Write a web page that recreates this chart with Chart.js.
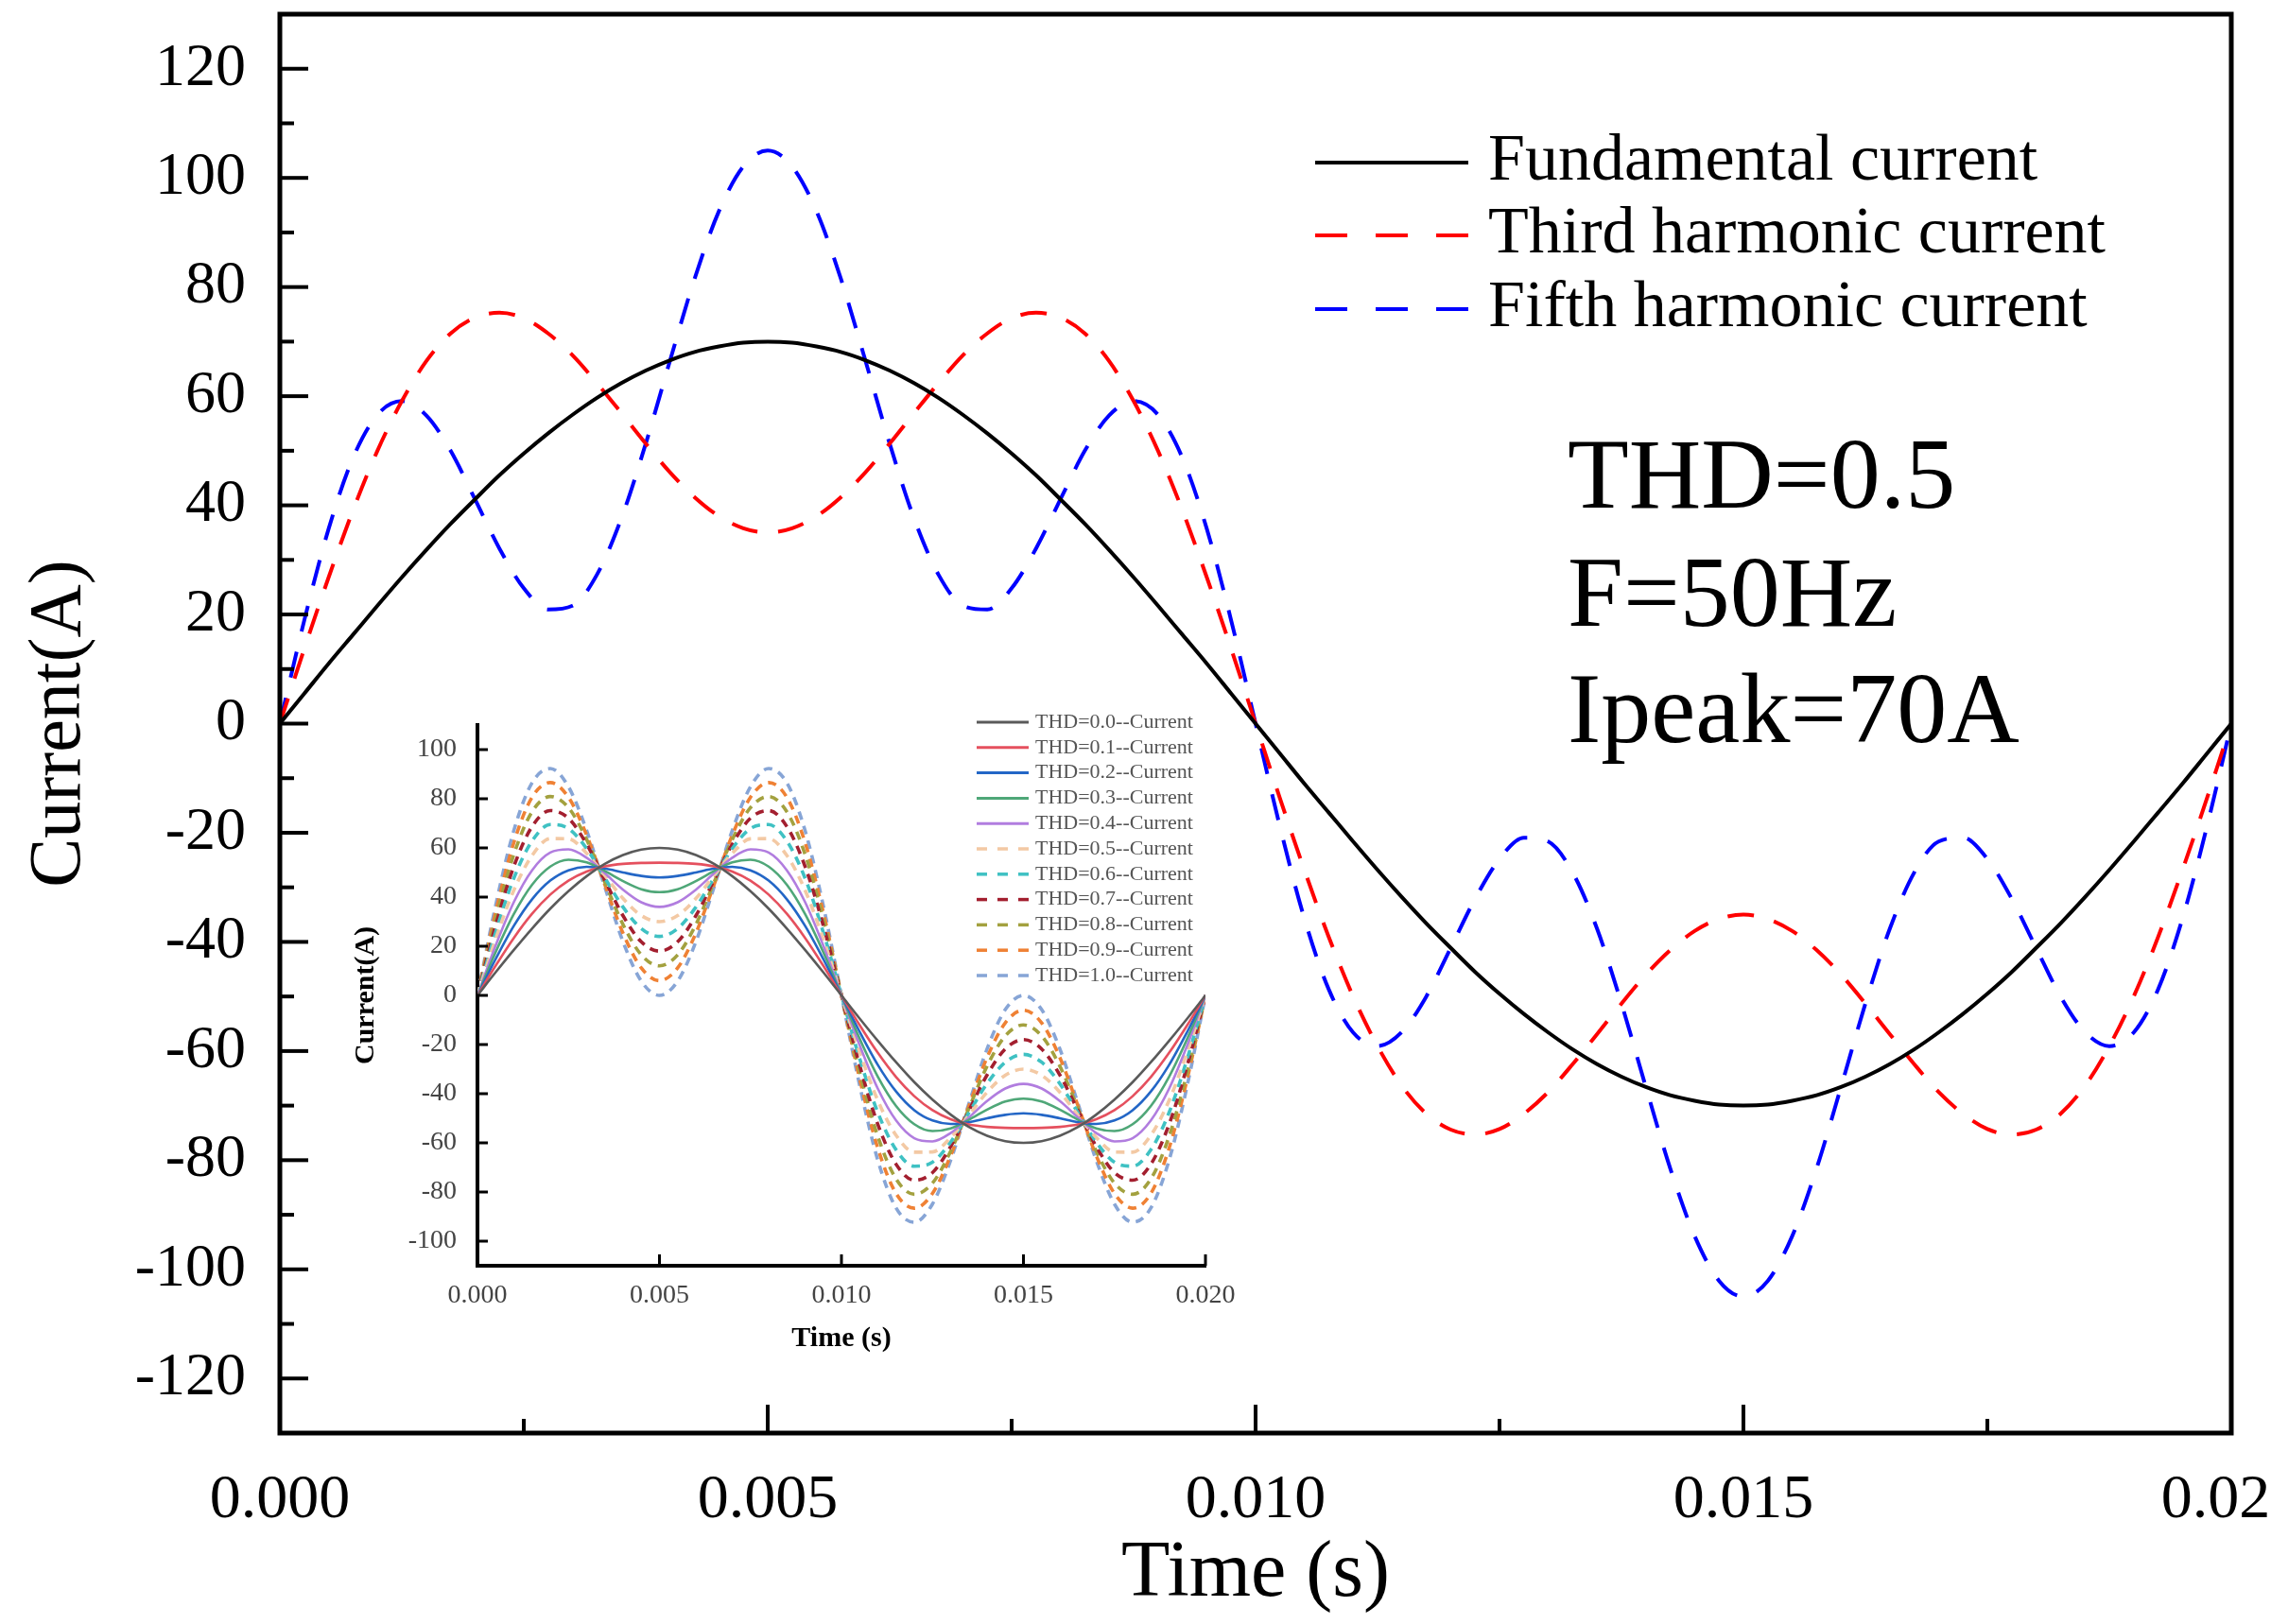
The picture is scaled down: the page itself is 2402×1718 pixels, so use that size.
<!DOCTYPE html>
<html>
<head>
<meta charset="utf-8">
<script src="https://cdn.jsdelivr.net/npm/chart.js@4.4.1/dist/chart.umd.min.js"></script>
<style>
  html, body { margin: 0; padding: 0; background: #fff; overflow: hidden; }
  #wrap { position: relative; width: 2402px; height: 1718px; background: #fff; }
  #mainChart { position: absolute; left: 0; top: 0; }
  #insetChart { position: absolute; left: 330px; top: 740px; }
</style>
</head>
<body>
<div id="wrap">
  <canvas id="mainChart" width="2402" height="1718"></canvas>
  <canvas id="insetChart" width="1010" height="700"></canvas>
</div>
<script>
const SERIF = "'Liberation Serif', 'Times New Roman', serif";

// ---- main chart data (time in s, current in A) ----
const timeMain = [0, 0.00025, 0.0005, 0.00075, 0.001, 0.00125, 0.0015, 0.00175, 0.002, 0.00225,
  0.0025, 0.00275, 0.003, 0.00325, 0.0035, 0.00375, 0.004, 0.00425, 0.0045, 0.00475,
  0.005, 0.00525, 0.0055, 0.00575, 0.006, 0.00625, 0.0065, 0.00675, 0.007, 0.00725,
  0.0075, 0.00775, 0.008, 0.00825, 0.0085, 0.00875, 0.009, 0.00925, 0.0095, 0.00975,
  0.01, 0.01025, 0.0105, 0.01075, 0.011, 0.01125, 0.0115, 0.01175, 0.012, 0.01225,
  0.0125, 0.01275, 0.013, 0.01325, 0.0135, 0.01375, 0.014, 0.01425, 0.0145, 0.01475,
  0.015, 0.01525, 0.0155, 0.01575, 0.016, 0.01625, 0.0165, 0.01675, 0.017, 0.01725,
  0.0175, 0.01775, 0.018, 0.01825, 0.0185, 0.01875, 0.019, 0.01925, 0.0195, 0.01975, 0.02];

const fundamental = [0, 5.5, 11.0, 16.3, 21.6, 26.8, 31.8, 36.6, 41.1, 45.5,
  49.5, 53.2, 56.6, 59.7, 62.4, 64.7, 66.6, 68.1, 69.1, 69.8,
  70, 69.8, 69.1, 68.1, 66.6, 64.7, 62.4, 59.7, 56.6, 53.2,
  49.5, 45.5, 41.1, 36.6, 31.8, 26.8, 21.6, 16.3, 11.0, 5.5,
  0, -5.5, -11.0, -16.3, -21.6, -26.8, -31.8, -36.6, -41.1, -45.5,
  -49.5, -53.2, -56.6, -59.7, -62.4, -64.7, -66.6, -68.1, -69.1, -69.8,
  -70, -69.8, -69.1, -68.1, -66.6, -64.7, -62.4, -59.7, -56.6, -53.2,
  -49.5, -45.5, -41.1, -36.6, -31.8, -26.8, -21.6, -16.3, -11.0, -5.5, 0];

const thirdHarmonic = [0, 13.7, 26.8, 39.1, 50.0, 59.1, 66.4, 71.5, 74.4, 75.3,
  74.3, 71.5, 67.5, 62.4, 56.9, 51.3, 46.0, 41.5, 38.0, 35.8,
  35, 35.8, 38.0, 41.5, 46.0, 51.3, 56.9, 62.4, 67.5, 71.5,
  74.3, 75.3, 74.4, 71.5, 66.4, 59.1, 50.0, 39.1, 26.8, 13.7,
  0, -13.7, -26.8, -39.1, -50.0, -59.1, -66.4, -71.5, -74.4, -75.3,
  -74.3, -71.5, -67.5, -62.4, -56.9, -51.3, -46.0, -41.5, -38.0, -35.8,
  -35, -35.8, -38.0, -41.5, -46.0, -51.3, -56.9, -62.4, -67.5, -71.5,
  -74.3, -75.3, -74.4, -71.5, -66.4, -59.1, -50.0, -39.1, -26.8, -13.7, 0];

const fifthHarmonic = [0, 18.9, 35.7, 48.7, 56.6, 59.1, 56.5, 50.0, 41.1, 32.1,
  24.8, 20.9, 21.6, 27.3, 37.6, 51.3, 66.6, 81.5, 93.9, 102.1,
  105, 102.1, 93.9, 81.5, 66.6, 51.3, 37.6, 27.3, 21.6, 20.9,
  24.8, 32.1, 41.1, 50.0, 56.5, 59.1, 56.6, 48.7, 35.7, 18.9,
  0, -18.9, -35.7, -48.7, -56.6, -59.1, -56.5, -50.0, -41.1, -32.1,
  -24.8, -20.9, -21.6, -27.3, -37.6, -51.3, -66.6, -81.5, -93.9, -102.1,
  -105, -102.1, -93.9, -81.5, -66.6, -51.3, -37.6, -27.3, -21.6, -20.9,
  -24.8, -32.1, -41.1, -50.0, -56.5, -59.1, -56.6, -48.7, -35.7, -18.9, 0];

const mainLabels = ['Fundamental current', 'Third harmonic current', 'Fifth harmonic current'];
const noteLines = ['THD=0.5', 'F=50Hz', 'Ipeak=70A'];

// ---- inset data ----
const timeInset = [0, 0.0005, 0.001, 0.0015, 0.002, 0.0025, 0.003, 0.0035, 0.004, 0.0045,
  0.005, 0.0055, 0.006, 0.0065, 0.007, 0.0075, 0.008, 0.0085, 0.009, 0.0095,
  0.01, 0.0105, 0.011, 0.0115, 0.012, 0.0125, 0.013, 0.0135, 0.014, 0.0145,
  0.015, 0.0155, 0.016, 0.0165, 0.017, 0.0175, 0.018, 0.0185, 0.019, 0.0195, 0.02];

const thd00 = [0, 9.4, 18.5, 27.2, 35.3, 42.4, 48.5, 53.5, 57.1, 59.3, 60, 59.3, 57.1, 53.5, 48.5, 42.4, 35.3, 27.2, 18.5, 9.4,
  0, -9.4, -18.5, -27.2, -35.3, -42.4, -48.5, -53.5, -57.1, -59.3, -60, -59.3, -57.1, -53.5, -48.5, -42.4, -35.3, -27.2, -18.5, -9.4, 0];
const thd01 = [0, 12.1, 23.4, 33.2, 41.0, 46.7, 50.4, 52.5, 53.5, 53.9, 54, 53.9, 53.5, 52.5, 50.4, 46.7, 41.0, 33.2, 23.4, 12.1,
  0, -12.1, -23.4, -33.2, -41.0, -46.7, -50.4, -52.5, -53.5, -53.9, -54, -53.9, -53.5, -52.5, -50.4, -46.7, -41.0, -33.2, -23.4, -12.1, 0];
const thd02 = [0, 14.8, 28.3, 39.1, 46.7, 50.9, 52.3, 51.6, 50.0, 48.6, 48, 48.6, 50.0, 51.6, 52.3, 50.9, 46.7, 39.1, 28.3, 14.8,
  0, -14.8, -28.3, -39.1, -46.7, -50.9, -52.3, -51.6, -50.0, -48.6, -48, -48.6, -50.0, -51.6, -52.3, -50.9, -46.7, -39.1, -28.3, -14.8, 0];
const thd03 = [0, 17.6, 33.1, 45.0, 52.4, 55.2, 54.1, 50.6, 46.5, 43.2, 42, 43.2, 46.5, 50.6, 54.1, 55.2, 52.4, 45.0, 33.1, 17.6,
  0, -17.6, -33.1, -45.0, -52.4, -55.2, -54.1, -50.6, -46.5, -43.2, -42, -43.2, -46.5, -50.6, -54.1, -55.2, -52.4, -45.0, -33.1, -17.6, 0];
const thd04 = [0, 20.3, 38.0, 50.9, 58.1, 59.4, 56.0, 49.7, 43.0, 37.9, 36, 37.9, 43.0, 49.7, 56.0, 59.4, 58.1, 50.9, 38.0, 20.3,
  0, -20.3, -38.0, -50.9, -58.1, -59.4, -56.0, -49.7, -43.0, -37.9, -36, -37.9, -43.0, -49.7, -56.0, -59.4, -58.1, -50.9, -38.0, -20.3, 0];
const thd05 = [0, 23.0, 42.8, 56.9, 63.8, 63.7, 57.8, 48.8, 39.4, 32.5, 30, 32.5, 39.4, 48.8, 57.8, 63.7, 63.8, 56.9, 42.8, 23.0,
  0, -23.0, -42.8, -56.9, -63.8, -63.7, -57.8, -48.8, -39.4, -32.5, -30, -32.5, -39.4, -48.8, -57.8, -63.7, -63.8, -56.9, -42.8, -23.0, 0];
const thd06 = [0, 25.7, 47.7, 62.8, 69.5, 67.9, 59.7, 47.8, 35.9, 27.2, 24, 27.2, 35.9, 47.8, 59.7, 67.9, 69.5, 62.8, 47.7, 25.7,
  0, -25.7, -47.7, -62.8, -69.5, -67.9, -59.7, -47.8, -35.9, -27.2, -24, -27.2, -35.9, -47.8, -59.7, -67.9, -69.5, -62.8, -47.7, -25.7, 0];
const thd07 = [0, 28.5, 52.5, 68.7, 75.2, 72.1, 61.5, 46.9, 32.4, 21.8, 18, 21.8, 32.4, 46.9, 61.5, 72.1, 75.2, 68.7, 52.5, 28.5,
  0, -28.5, -52.5, -68.7, -75.2, -72.1, -61.5, -46.9, -32.4, -21.8, -18, -21.8, -32.4, -46.9, -61.5, -72.1, -75.2, -68.7, -52.5, -28.5, 0];
const thd08 = [0, 31.2, 57.4, 74.7, 80.9, 76.4, 63.4, 46.0, 28.8, 16.5, 12, 16.5, 28.8, 46.0, 63.4, 76.4, 80.9, 74.7, 57.4, 31.2,
  0, -31.2, -57.4, -74.7, -80.9, -76.4, -63.4, -46.0, -28.8, -16.5, -12, -16.5, -28.8, -46.0, -63.4, -76.4, -80.9, -74.7, -57.4, -31.2, 0];
const thd09 = [0, 33.9, 62.2, 80.6, 86.6, 80.6, 65.2, 45.0, 25.3, 11.2, 6, 11.2, 25.3, 45.0, 65.2, 80.6, 86.6, 80.6, 62.2, 33.9,
  0, -33.9, -62.2, -80.6, -86.6, -80.6, -65.2, -45.0, -25.3, -11.2, -6, -11.2, -25.3, -45.0, -65.2, -80.6, -86.6, -80.6, -62.2, -33.9, 0];
const thd10 = [0, 36.6, 67.1, 86.5, 92.3, 84.9, 67.1, 44.1, 21.8, 5.8, 0, 5.8, 21.8, 44.1, 67.1, 84.9, 92.3, 86.5, 67.1, 36.6,
  0, -36.6, -67.1, -86.5, -92.3, -84.9, -67.1, -44.1, -21.8, -5.8, 0, -5.8, -21.8, -44.1, -67.1, -84.9, -92.3, -86.5, -67.1, -36.6, 0];

const insetLabels = ['THD=0.0--Current', 'THD=0.1--Current', 'THD=0.2--Current', 'THD=0.3--Current',
  'THD=0.4--Current', 'THD=0.5--Current', 'THD=0.6--Current', 'THD=0.7--Current',
  'THD=0.8--Current', 'THD=0.9--Current', 'THD=1.0--Current'];
const insetSeries = [thd00, thd01, thd02, thd03, thd04, thd05, thd06, thd07, thd08, thd09, thd10];

// styles
const mainColors = ['#000000', '#ff0000', '#0000ff'];
const insetColors = ['#5a5a5a', '#e5505e', '#2366c6', '#4fa778', '#b17ddf', '#f3c9a4',
  '#3fc1c3', '#a31f2f', '#a3a13f', '#ef8134', '#87a5d6'];

function toPoints(xs, ys) {
  return xs.map(function (x, i) { return { x: x, y: ys[i] }; });
}

// inward ticks, frame, legend and the note text of the main plot
const mainDecor = {
  id: 'mainDecor',
  afterDraw(chart) {
    const ctx = chart.ctx;
    const a = chart.chartArea;
    const xs = chart.scales.x, ys = chart.scales.y;
    ctx.save();
    ctx.strokeStyle = '#000';
    ctx.lineWidth = 4;
    for (let v = -120; v <= 120; v += 10) {
      const py = ys.getPixelForValue(v);
      const len = v % 20 === 0 ? 30 : 15;
      ctx.beginPath(); ctx.moveTo(a.left, py); ctx.lineTo(a.left + len, py); ctx.stroke();
    }
    for (let k = 1; k < 8; k++) {
      const px = xs.getPixelForValue(k * 0.0025);
      const len = k % 2 === 0 ? 30 : 15;
      ctx.beginPath(); ctx.moveTo(px, a.bottom); ctx.lineTo(px, a.bottom - len); ctx.stroke();
    }
    ctx.lineWidth = 5;
    ctx.strokeRect(a.left, a.top, a.right - a.left, a.bottom - a.top);

    // legend
    const rows = [172, 249, 327];
    chart.data.datasets.forEach(function (ds, i) {
      ctx.strokeStyle = ds.borderColor;
      ctx.lineWidth = 4;
      ctx.setLineDash(i === 0 ? [] : [34, 30]);
      ctx.beginPath(); ctx.moveTo(1391, rows[i]); ctx.lineTo(1553, rows[i]); ctx.stroke();
      ctx.setLineDash([]);
      ctx.fillStyle = '#000';
      ctx.font = '70px ' + SERIF;
      ctx.textBaseline = 'middle';
      ctx.textAlign = 'left';
      ctx.fillText(ds.label, 1574, rows[i]);
    });

    // note
    ctx.font = '106px ' + SERIF;
    ctx.textBaseline = 'alphabetic';
    const base = [537, 662, 785];
    noteLines.forEach(function (t, i) { ctx.fillText(t, 1658, base[i]); });
    ctx.restore();
  }
};

const mainChart = new Chart(document.getElementById('mainChart'), {
  type: 'line',
  data: {
    datasets: [0, 1, 2].map(function (i) {
      return {
        label: mainLabels[i],
        data: toPoints(timeMain, [fundamental, thirdHarmonic, fifthHarmonic][i]),
        borderColor: mainColors[i],
        borderWidth: 4,
        borderDash: i === 0 ? [] : [28, 22]
      };
    })
  },
  options: {
    responsive: false,
    animation: false,
    devicePixelRatio: 1,
    layout: { padding: { left: 0, top: 15, right: 42, bottom: 0 } },
    elements: {
      point: { radius: 0 },
      line: { cubicInterpolationMode: 'monotone', fill: false }
    },
    plugins: { legend: { display: false }, tooltip: { enabled: false } },
    scales: {
      x: {
        type: 'linear', min: 0, max: 0.02,
        grid: { display: false }, border: { display: false },
        ticks: {
          stepSize: 0.005, maxRotation: 0, autoSkip: false, padding: 24,
          color: '#000', font: { family: SERIF, size: 66 },
          callback: function (v) { return Number(v).toFixed(3); }
        },
        title: { display: true, text: 'Time (s)', color: '#000', font: { family: SERIF, size: 84 }, padding: { top: 0, bottom: 2 } },
        afterFit: function (s) { s.height = 202; s.paddingLeft = 0; s.paddingRight = 0; }
      },
      y: {
        type: 'linear', min: -130, max: 130,
        grid: { display: false }, border: { display: false },
        ticks: {
          stepSize: 10, maxTicksLimit: 100, autoSkip: false, padding: 28,
          color: '#000', font: { family: SERIF, size: 64 },
          callback: function (v) { return v % 20 === 0 ? v : ''; }
        },
        title: { display: true, text: 'Current(A)', color: '#000', font: { family: SERIF, size: 78 }, padding: { top: 17, bottom: 0 } },
        afterFit: function (s) { s.width = 296; s.paddingTop = 0; s.paddingBottom = 0; }
      }
    }
  },
  plugins: [mainDecor]
});

// inset ticks and legend
const insetDecor = {
  id: 'insetDecor',
  afterDraw(chart) {
    const ctx = chart.ctx;
    const a = chart.chartArea;
    const xs = chart.scales.x, ys = chart.scales.y;
    ctx.save();
    ctx.strokeStyle = '#000';
    ctx.lineWidth = 3;
    for (let v = -100; v <= 100; v += 20) {
      const py = ys.getPixelForValue(v);
      ctx.beginPath(); ctx.moveTo(a.left, py); ctx.lineTo(a.left + 11, py); ctx.stroke();
    }
    for (let k = 1; k <= 4; k++) {
      const px = xs.getPixelForValue(k * 0.005);
      ctx.beginPath(); ctx.moveTo(px, a.bottom); ctx.lineTo(px, a.bottom - 12); ctx.stroke();
    }
    chart.data.datasets.forEach(function (ds, i) {
      const y = 24 + 26.8 * i;
      ctx.strokeStyle = ds.borderColor;
      ctx.lineWidth = i < 5 ? 3 : 3.5;
      ctx.setLineDash(i < 5 ? [] : [11, 11]);
      ctx.beginPath(); ctx.moveTo(703, y); ctx.lineTo(758, y); ctx.stroke();
      ctx.setLineDash([]);
      ctx.fillStyle = '#555';
      ctx.font = '22px ' + SERIF;
      ctx.textBaseline = 'middle';
      ctx.textAlign = 'left';
      ctx.fillText(ds.label, 765, y);
    });
    ctx.restore();
  }
};

const insetChart = new Chart(document.getElementById('insetChart'), {
  type: 'line',
  data: {
    datasets: insetSeries.map(function (ys, i) {
      return {
        label: insetLabels[i],
        data: toPoints(timeInset, ys),
        borderColor: insetColors[i],
        borderWidth: i < 5 ? 2.6 : 3.6,
        borderDash: i < 5 ? [] : [9, 7]
      };
    })
  },
  options: {
    responsive: false,
    animation: false,
    devicePixelRatio: 1,
    layout: { padding: { left: 0, top: 27, right: 65, bottom: 0 } },
    elements: {
      point: { radius: 0 },
      line: { cubicInterpolationMode: 'monotone', fill: false }
    },
    plugins: { legend: { display: false }, tooltip: { enabled: false } },
    scales: {
      x: {
        type: 'linear', min: 0, max: 0.02,
        grid: { display: false }, border: { display: true, color: '#000', width: 4 },
        ticks: {
          stepSize: 0.005, maxRotation: 0, autoSkip: false, padding: 7,
          color: '#444', font: { family: SERIF, size: 28 },
          callback: function (v) { return Number(v).toFixed(3); }
        },
        title: { display: true, text: 'Time (s)', color: '#000', font: { family: SERIF, size: 30, weight: 'bold' }, padding: { top: 0, bottom: 6 } },
        afterFit: function (s) { s.height = 101; s.paddingLeft = 0; s.paddingRight = 0; }
      },
      y: {
        type: 'linear', min: -110, max: 110,
        grid: { display: false }, border: { display: true, color: '#000', width: 4 },
        ticks: {
          stepSize: 10, maxTicksLimit: 100, autoSkip: false, padding: 14,
          color: '#444', font: { family: SERIF, size: 28 },
          callback: function (v) { return v % 20 === 0 && Math.abs(v) <= 100 ? v : ''; }
        },
        title: { display: true, text: 'Current(A)', color: '#000', font: { family: SERIF, size: 30, weight: 'bold' }, padding: { top: 39, bottom: 0 } },
        afterFit: function (s) { s.width = 175; s.paddingTop = 0; s.paddingBottom = 0; }
      }
    }
  },
  plugins: [insetDecor]
});
</script>
</body>
</html>
